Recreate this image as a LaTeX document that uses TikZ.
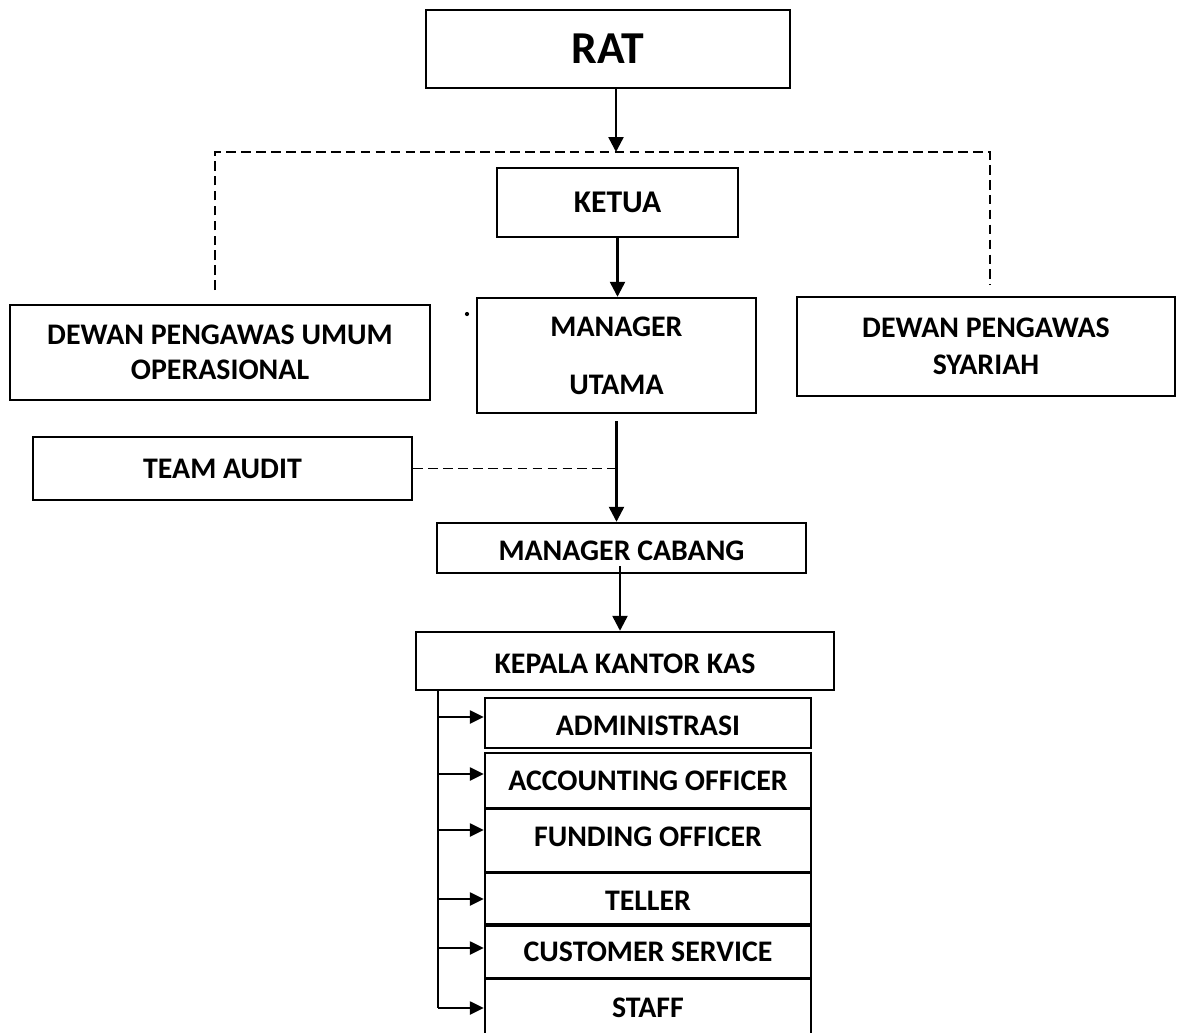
\documentclass[tikz,border=0pt]{standalone}
\usepackage{fontspec}
\setmainfont{Carlito}
\usetikzlibrary{arrows.meta,calc}

\begin{document}
\begin{tikzpicture}[
    x=0.02cm, y=-0.02cm,
    post/.style={draw=black, line width=1.4pt, font=\fontsize{17}{20}\selectfont\bfseries, align=center, inner sep=0pt},
    sunk/.style={text height=13.8pt, text depth=0pt},
    raised/.style={text height=11pt, text depth=4.5pt},
    link/.style={-{Triangle[length=3mm, width=3mm]}, line width=1.4pt},
    branch/.style={-{Triangle[length=2.8mm, width=2.6mm]}, line width=1.4pt},
    advise/.style={draw=black, line width=1.1pt, dash pattern=on 5.5pt off 3pt},
  ]
  \useasboundingbox (0,0) rectangle (1184,1032);

  % --- top of the chart
  \node[post, minimum width=7.28cm, minimum height=1.56cm, font=\fontsize{26}{30}\selectfont\bfseries] (rat) at (608,49) {RAT};
  \node[post, minimum width=4.82cm, minimum height=1.38cm, font=\fontsize{18}{21}\selectfont\bfseries] (ketua) at (617.5,202.5) {KETUA};
  \node[post, minimum width=5.58cm, minimum height=2.30cm] (mu) at (616.5,355.5) {MANAGER\\[13pt]UTAMA};
  \node[post, minimum width=8.40cm, minimum height=1.90cm] (dpu) at (220,352.5) {DEWAN PENGAWAS UMUM\\[0pt]OPERASIONAL};
  \node[post, minimum width=7.56cm, minimum height=1.98cm] (dps) at (986,346.5) {DEWAN PENGAWAS\\[1pt]SYARIAH};
  \node[circle, fill=black, inner sep=0pt, minimum size=2.4pt] (stray) at (467,314) {};

  % --- supervisors hang off a dashed line
  \coordinate (join) at (616,152);
  \coordinate (dpu top) at (215,290);
  \coordinate (dps top) at (990,285);
  \draw[advise] (dpu top) -- (dpu top |- join) -- (dps top |- join) -- (dps top);
  \draw[link] (rat.south -| join) -- (join);
  \draw[link] (ketua.south) -- (ketua.south |- mu.north);

  % --- branch level
  \node[post, minimum width=7.58cm, minimum height=1.26cm] (audit) at (222.5,468.5) {TEAM AUDIT};
  \node[post, sunk, minimum width=7.38cm, minimum height=1.00cm] (mc) at (621.5,548) {MANAGER CABANG};
  \node[post, sunk, minimum width=8.36cm, minimum height=1.16cm] (kkk) at (625,661) {KEPALA KANTOR KAS};

  \coordinate (mu out) at ($(mu.south)+(0,7)$);
  \draw[link] (mu out) -- (mu out |- mc.north);
  \draw[advise] (audit.east) -- (audit.east -| mu out);
  \coordinate (mc out) at ($(mc.south)+(-1.5,-8)$);
  \draw[link] (mc out) -- (mc out |- kkk.north);

  % --- staff under the cash office
  \foreach \n/\y/\h/\lift/\txt in {adm/723/1.00/sunk/ADMINISTRASI, acc/780.5/1.10/post/ACCOUNTING OFFICER,
      fund/840.5/1.26/raised/FUNDING OFFICER, tel/898.5/1.02/sunk/TELLER,
      cs/952/1.04/post/CUSTOMER SERVICE, staff/1008/1.16/post/STAFF}
    \node[post, \lift, minimum width=6.52cm, minimum height=\h cm] (\n) at (648,\y) {\txt};

  \foreach \n/\y in {adm/717, acc/774, fund/830, tel/899, cs/948, staff/1008}
    \coordinate (k\n) at (438,\y);
  \draw[line width=1.4pt] (kkk.south -| kstaff) -- (kstaff);
  \foreach \n in {adm, acc, fund, tel, cs, staff}
    \draw[branch] (k\n) -- (k\n -| \n.west);

\end{tikzpicture}
\end{document}
